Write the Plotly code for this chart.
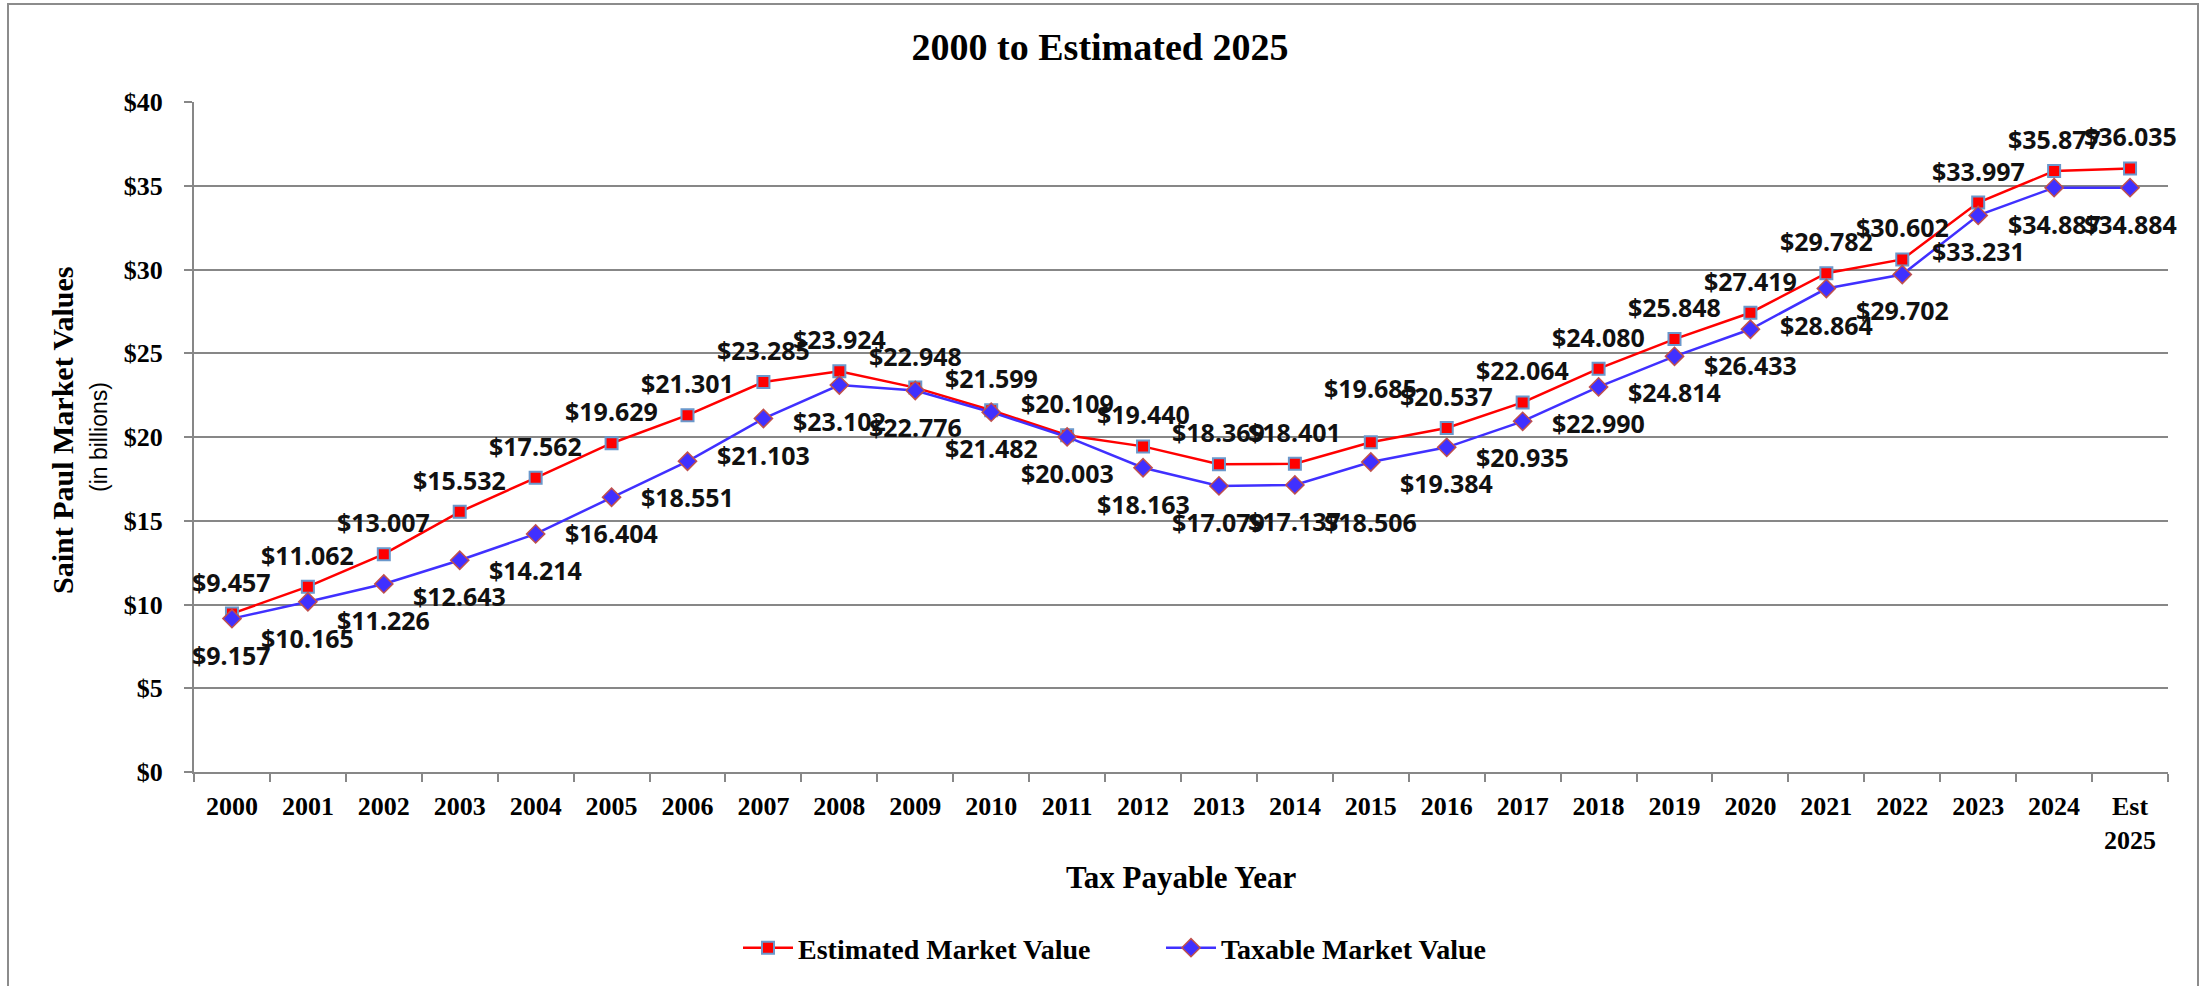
import plotly.graph_objects as go

# ---- data ----
years = ["2000", "2001", "2002", "2003", "2004", "2005", "2006", "2007", "2008", "2009",
         "2010", "2011", "2012", "2013", "2014", "2015", "2016", "2017", "2018", "2019",
         "2020", "2021", "2022", "2023", "2024", "Est 2025"]
tick_labels = ["2000", "2001", "2002", "2003", "2004", "2005", "2006", "2007", "2008", "2009",
               "2010", "2011", "2012", "2013", "2014", "2015", "2016", "2017", "2018", "2019",
               "2020", "2021", "2022", "2023", "2024", "Est<br>2025"]
estimated = [9.457, 11.062, 13.007, 15.532, 17.562, 19.629, 21.301, 23.285, 23.924, 22.948,
             21.599, 20.109, 19.440, 18.369, 18.401, 19.685, 20.537, 22.064, 24.080, 25.848,
             27.419, 29.782, 30.602, 33.997, 35.877, 36.035]
taxable = [9.157, 10.165, 11.226, 12.643, 14.214, 16.404, 18.551, 21.103, 23.102, 22.776,
           21.482, 20.003, 18.163, 17.079, 17.137, 18.506, 19.384, 20.935, 22.990, 24.814,
           26.433, 28.864, 29.702, 33.231, 34.887, 34.884]
y_ticks = [0, 5, 10, 15, 20, 25, 30, 35, 40]

# ---- styles ----
SERIF = "Liberation Serif"
GRID = "#878787"
LABEL_FONT = dict(family="Noto Sans", size=25, color="#111111", weight="bold")
EST_SHIFT_DEFAULT, TAX_SHIFT_DEFAULT = 32, -36
est_shift_special = {"2015": 54}
tax_shift_special = {"2015": -60}

fig = go.Figure()
fig.add_trace(go.Scatter(
    x=years, y=estimated, mode="lines+markers", name="Estimated Market Value",
    line=dict(color="#FF0000", width=2.5),
    marker=dict(symbol="square", size=12, color="#FF0000",
                line=dict(color="#6A98CC", width=2)),
))
fig.add_trace(go.Scatter(
    x=years, y=taxable, mode="lines+markers", name="Taxable Market Value",
    line=dict(color="#4030FF", width=2.5),
    marker=dict(symbol="diamond", size=14, color="#4030FF",
                line=dict(color="#C0504D", width=1.5)),
))

annotations = []
# on a category axis a numeric x is the category index
for i, (yr, v) in enumerate(zip(years, estimated)):
    annotations.append(dict(x=i, y=v, xref="x", yref="y", text=f"${v:.3f}",
                            showarrow=False, yanchor="middle", xanchor="center",
                            yshift=est_shift_special.get(yr, EST_SHIFT_DEFAULT),
                            font=LABEL_FONT))
for i, (yr, v) in enumerate(zip(years, taxable)):
    annotations.append(dict(x=i, y=v, xref="x", yref="y", text=f"${v:.3f}",
                            showarrow=False, yanchor="middle", xanchor="center",
                            yshift=tax_shift_special.get(yr, TAX_SHIFT_DEFAULT),
                            font=LABEL_FONT))

# axis titles
annotations.append(dict(x=0, y=0.5, xref="paper", yref="paper", text="Saint Paul Market Values",
                        textangle=-90, showarrow=False, xanchor="center", yanchor="middle",
                        xshift=-132, yshift=7,
                        font=dict(family=SERIF, size=30, color="black", weight="bold")))
annotations.append(dict(x=0, y=0.5, xref="paper", yref="paper", text="(in billions)",
                        textangle=-90, showarrow=False, xanchor="center", yanchor="middle",
                        xshift=-95, yshift=0,
                        font=dict(family="Liberation Sans", size=23, color="black")))
annotations.append(dict(x=0.5, y=0, xref="paper", yref="paper", text="Tax Payable Year",
                        showarrow=False, xanchor="center", yanchor="middle", yshift=-105,
                        font=dict(family=SERIF, size=31, color="black", weight="bold")))

fig.update_layout(
    width=2200, height=986,
    margin=dict(l=194, r=32, t=102, b=214),
    paper_bgcolor="white", plot_bgcolor="white",
    title=dict(text="2000 to Estimated 2025", x=0.5, xref="container", xanchor="center",
               y=1 - 47 / 986, yref="container", yanchor="middle",
               font=dict(family=SERIF, size=38, color="black", weight="bold")),
    xaxis=dict(type="category", categoryorder="array", categoryarray=years,
               range=[-0.5, len(years) - 0.5],
               tickmode="array", tickvals=years, ticktext=tick_labels, tickangle=0,
               tickson="boundaries", ticks="outside", ticklen=8, tickwidth=2, tickcolor=GRID,
               showgrid=False, showline=True, linecolor=GRID, linewidth=2, zeroline=False,
               ticklabelstandoff=10,
               tickfont=dict(family=SERIF, size=26, color="black", weight="bold")),
    yaxis=dict(range=[0, 40], tickmode="array", tickvals=y_ticks,
               ticktext=[f"${t}" for t in y_ticks],
               ticks="outside", ticklen=8, tickwidth=2, tickcolor=GRID,
               showgrid=True, gridcolor=GRID, gridwidth=2,
               showline=True, linecolor=GRID, linewidth=2, zeroline=False,
               ticklabelstandoff=16,
               tickfont=dict(family=SERIF, size=26, color="black", weight="bold")),
    legend=dict(orientation="h", x=(738 - 194) / 1974, xanchor="left",
                y=(772 - 948) / 670, yanchor="middle",
                font=dict(family=SERIF, size=28, color="black", weight="bold"),
                itemwidth=50, entrywidth=358, entrywidthmode="pixels",
                bgcolor="rgba(0,0,0,0)"),
    annotations=annotations,
    shapes=[dict(type="rect", xref="paper", yref="paper",
                 x0=(8 - 194) / 1974, x1=(2198 - 194) / 1974,
                 y0=(772 - 1000) / 670, y1=(772 - 4) / 670,
                 line=dict(color="#8C8C8C", width=2), fillcolor="rgba(0,0,0,0)", layer="below")],
)

fig.write_html("out.html")
